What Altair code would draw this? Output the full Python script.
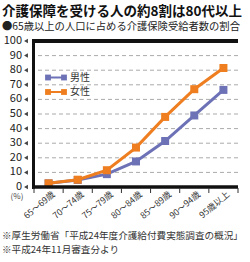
import altair as alt
import pandas as pd

categories = ["65～69歳", "70～74歳", "75～79歳", "80～84歳", "85～89歳", "90～94歳", "95歳以上"]
male = [2.5, 4.8, 8.8, 17.5, 31.5, 49.0, 66.5]
female = [2.5, 5.0, 11.5, 27.0, 48.0, 67.0, 81.5]
series_names = ["男性", "女性"]
y_ticks = list(range(0, 101, 10))
grid_values = list(range(10, 100, 10))
title_text = "介護保障を受ける人の約8割は80代以上"
subtitle_text = "●65歳以上の人口に占める介護保険受給者数の割合"
notes = ["※厚生労働省「平成24年度介護給付費実態調査の概況」", "※平成24年11月審査分より"]
unit_label = "(%)"
colors = ["#6D72B6", "#EE7E1F"]

rows = []
for name, vals in zip(series_names, [male, female]):
    for c, v in zip(categories, vals):
        rows.append({"age": c, "series": name, "value": v})
df = pd.DataFrame(rows)
cat_df = pd.DataFrame({"age": categories})

W, H = 204, 146
FONT = "Noto Sans CJK JP"

xscale = alt.Scale(type="band", paddingInner=0, paddingOuter=0)
yscale = alt.Scale(domain=[0, 100], nice=False)
cscale = alt.Scale(domain=series_names, range=colors)


def xq(bp=0.5):
    return alt.X("age:N", sort=categories, bandPosition=bp, scale=xscale, axis=None)


def yq():
    return alt.Y("value:Q", scale=yscale, axis=None)


# gridlines
grid = alt.Chart(pd.DataFrame({"value": grid_values})).mark_rule(
    color="#aaaaaa", strokeWidth=1, strokeDash=[4, 3]).encode(y=yq())

# frame lines
top_rule = alt.Chart(pd.DataFrame({"value": [100]})).mark_rule(
    color="#111111", strokeWidth=4).encode(y=yq(), x=alt.value(0), x2=alt.value(W))
left_rule = alt.Chart(pd.DataFrame({"value": [0, 100]})).mark_rule(
    color="#111111", strokeWidth=3).encode(x=alt.value(-0.5), y=alt.value(-2), y2=alt.value(H + 2))
bottom_rule = alt.Chart(pd.DataFrame({"value": [0]})).mark_rule(
    color="#111111", strokeWidth=3.5).encode(y=yq(), x=alt.value(-2), x2=alt.value(W))

# x ticks at band edges
ticks_left = alt.Chart(cat_df).mark_rule(color="#333333", strokeWidth=1).encode(
    x=xq(0), y=alt.value(H + 1), y2=alt.value(H + 6))
ticks_right = alt.Chart(cat_df).transform_filter(
    alt.datum.age == categories[-1]).mark_rule(color="#333333", strokeWidth=1).encode(
    x=xq(1), y=alt.value(H + 1), y2=alt.value(H + 6))

# x labels
x_labels = alt.Chart(cat_df).mark_text(
    font=FONT, fontSize=8.8, color="#333333", align="right", baseline="top", angle=320,
    dx=3).encode(
    x=xq(0.5), y=alt.value(H + 5), text="age:N")

# y labels and triangle markers
tick_df = pd.DataFrame({"value": y_ticks})
y_labels = alt.Chart(tick_df).mark_text(
    font=FONT, fontSize=11, color="#222222", align="right", baseline="middle").encode(
    y=yq(), x=alt.value(-12), text=alt.Text("value:Q"))
triangles = alt.Chart(tick_df).mark_point(
    shape="triangle-left", filled=True, color="#444444", size=20, opacity=1).encode(
    y=yq(), x=alt.value(-8))

# data series (female drawn last, on top)
layers = []
for name in series_names:
    sub = alt.Chart(df).transform_filter(alt.datum.series == name).encode(
        x=xq(0.5), y=yq(), color=alt.Color("series:N", scale=cscale, legend=None))
    layers.append(sub.mark_line(strokeWidth=3))
    layers.append(sub.mark_point(shape="square", filled=True, size=64, opacity=1))

# legend (inside plot, top-left)
legend_layers = []
for i, name in enumerate(series_names):
    ldf = pd.DataFrame({"series": [name]})
    yy = 36.5 + 14.5 * i
    enc_c = alt.Color("series:N", scale=cscale, legend=None)
    legend_layers.append(alt.Chart(ldf).mark_rule(strokeWidth=2).encode(
        x=alt.value(14), x2=alt.value(30), y=alt.value(yy), color=enc_c))
    for xx in (14, 30):
        legend_layers.append(alt.Chart(ldf).mark_point(
            shape="square", filled=True, size=34, opacity=1).encode(
            x=alt.value(xx), y=alt.value(yy), color=enc_c))
    legend_layers.append(alt.Chart(ldf).mark_text(
        font=FONT, fontSize=10, color="#333333", align="left", baseline="middle").encode(
        x=alt.value(36), y=alt.value(yy), text="series:N"))

unit = alt.Chart(pd.DataFrame({"t": [unit_label]})).mark_text(
    font=FONT, fontSize=8, color="#444444", align="center", baseline="middle").encode(
    text="t:N", x=alt.value(-17), y=alt.value(156))

note1 = alt.Chart(pd.DataFrame({"t": [notes[0]]})).mark_text(
    font=FONT, fontSize=9.6, color="#333333", align="left", baseline="middle").encode(
    text="t:N", x=alt.value(-32), y=alt.value(194.5))
note2 = alt.Chart(pd.DataFrame({"t": [notes[1]]})).mark_text(
    font=FONT, fontSize=9.6, color="#333333", align="left", baseline="middle").encode(
    text="t:N", x=alt.value(-32), y=alt.value(208.5))

chart = alt.layer(
    grid, *layers, top_rule, left_rule, bottom_rule, ticks_left, ticks_right,
    x_labels, y_labels, triangles, *legend_layers, unit, note1, note2,
).properties(
    width=W, height=H,
    title=alt.TitleParams(text=title_text, subtitle=subtitle_text, anchor="start", frame="group",
                          dx=-32, fontSize=13.5, fontWeight="bold", font=FONT, color="#111111",
                          subtitleFontSize=10.3, subtitleFont=FONT, subtitleColor="#222222",
                          subtitlePadding=3, offset=3),
    padding={"left": 34, "top": 41, "right": 12, "bottom": 75},
    autosize=alt.AutoSizeParams(type="none"),
).configure_view(stroke=None)

chart.save("out.html", embed_options={"renderer": "svg", "actions": False})
